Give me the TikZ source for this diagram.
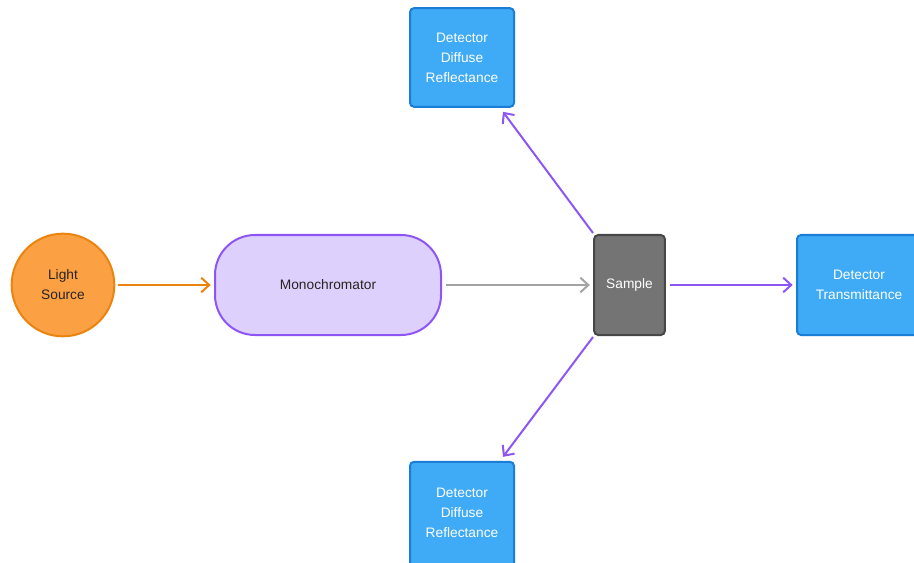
\documentclass[tikz,border=0pt]{standalone}
\usepackage{fontspec}
\setmainfont{Liberation Sans}
\usetikzlibrary{arrows.meta}
\definecolor{lsfill}{HTML}{FBA043}
\definecolor{lsdraw}{HTML}{EA840F}
\definecolor{mofill}{HTML}{DDD0FC}
\definecolor{modraw}{HTML}{8E55F5}
\definecolor{safill}{HTML}{747474}
\definecolor{sadraw}{HTML}{474747}
\definecolor{defill}{HTML}{3FAAF6}
\definecolor{dedraw}{HTML}{1B7ED6}
\definecolor{greyarrow}{HTML}{A3A3A3}
\definecolor{txtdark}{HTML}{2A2320}
\tikzset{
  x=0.75pt, y=-0.75pt,
  every node/.style={font=\fontsize{10.3}{15}\selectfont, align=center, inner sep=0pt},
  lightsrc/.style={circle, fill=lsfill, draw=lsdraw, line width=1.5pt, minimum size=77pt, text=txtdark},
  mono/.style={rectangle, rounded corners=30pt, fill=mofill, draw=modraw, line width=1.5pt, minimum width=169.5pt, minimum height=75pt, text=txtdark},
  samplebox/.style={rectangle, rounded corners=3pt, fill=safill, draw=sadraw, line width=1.5pt, minimum width=53pt, minimum height=75pt, text=white},
  detbox/.style={rectangle, rounded corners=3pt, fill=defill, draw=dedraw, line width=1.5pt, minimum width=78pt, minimum height=74pt, text=white},
  conn/.style={line width=1.5pt, -{Straight Barb[length=6pt,width=11pt,line width=1.5pt]}},
}
\begin{document}
\begin{tikzpicture}
\clip (0,0) rectangle (914,563);
\node[lightsrc] (ls) at (63,285) {Light\\Source};
\node[mono] (mono) at (328,285) {Monochromator};
\node[samplebox] (sample) at (629.5,285) {Sample};
\node[detbox, minimum width=93pt, minimum height=75pt] (dt) at (859,285) {Detector\\Transmittance};
\node[detbox] (dtop) at (462,57.5) {Detector\\Diffuse\\Reflectance};
\node[detbox, minimum height=82pt] (dbot) at (462,516.5) {};
\node[text=white] at (462,513) {Detector\\Diffuse\\Reflectance};
\coordinate (stop) at (593,233);
\coordinate (sbot) at (593,337);
\draw[conn, lsdraw] (ls.east) ++(3,0) -- ([xshift=-2.5pt]mono.west);
\draw[conn, greyarrow] ([xshift=3pt]mono.east) -- ([xshift=-2.5pt]sample.west);
\draw[conn, modraw] ([xshift=3pt]sample.east) -- ([xshift=-2.5pt]dt.west);
\draw[conn, modraw] (stop) -- ([xshift=-9pt,yshift=-3pt]dtop.south east);
\draw[conn, modraw] (sbot) -- ([xshift=-9pt,yshift=3pt]dbot.north east);
\end{tikzpicture}
\end{document}
